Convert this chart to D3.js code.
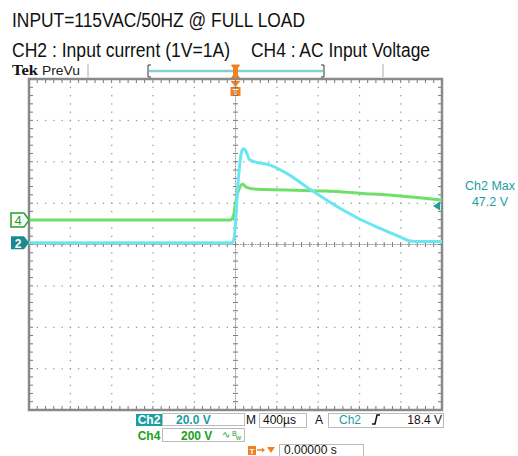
<!DOCTYPE html>
<html><head><meta charset="utf-8">
<script src="https://cdn.jsdelivr.net/npm/d3@7/dist/d3.min.js"></script>
<style>body{margin:0;background:#fff}svg{display:block}</style>
</head><body>
<script>
// ---- data ----
const titleLines = ["INPUT=115VAC/50HZ @ FULL LOAD", "CH2 : Input current (1V=1A)", "CH4 : AC Input Voltage"];
const timeDomain = [-2000, 2000];          // µs, 400 µs/div, 10 div
const divDomain = [-4, 4];                 // vertical divisions
const ch2Scale = 20;                       // V/div
const ch4Scale = 200;                      // V/div
const ch2Offset = 0.04;                    // div
const ch4Offset = 0.59;                    // div
const ch2Time  = [-2000, -27, -5, 15, 35, 55, 75, 95, 140, 205, 334, 496, 722, 1012, 1206, 1400, 1593, 1690, 1790, 2000];
const ch2Volts = [0, 0, 6, 22, 35, 43, 45.5, 44.8, 40, 38.9, 37.6, 33.6, 25.9, 16.7, 11.4, 7, 2.9, 0.9, 0.6, 0.6];
const ch4Time  = [-2000, -53, -21, -5, 12, 37, 70, 108, 205, 496, 818, 1012, 1206, 1593, 2000];
const ch4Volts = [0, 0, 16, 65, 113, 153, 173, 158, 149, 146, 141, 137, 130, 116, 97];
const measLabel = ["Ch2 Max", "47.2 V"];
const statusCh2 = ["Ch2", "20.0 V"];
const statusCh4 = ["Ch4", "200 V"];
const timebase = "400µs";
const trigText = ["Ch2", "18.4 V"];
const trigPos = "0.00000 s";

const W = 518, H = 456;
const svg = d3.select("body").append("svg").attr("width", W).attr("height", H);
const x = d3.scaleLinear().domain(timeDomain).range([29, 442]);
const y = d3.scaleLinear().domain(divDomain).range([410, 79]);
const sans = "'Liberation Sans', Arial, sans-serif";
const teal = "#1a9ea4", green = "#22a022", orange = "#f08020";

// titles (condensed to match the narrow face of the original)
const titles = [[12, 27, 293], [12, 57, 218], [251, 57, 179]];
titles.forEach(([tx0, ty0, len], i) => svg.append("text").attr("x", tx0).attr("y", ty0).text(titleLines[i])
  .attr("font-family", sans).attr("font-size", 20).attr("fill", "#111")
  .attr("textLength", len).attr("lengthAdjust", "spacingAndGlyphs"));

// Tek PreVu header
svg.append("text").attr("x", 12).attr("y", 75).text("Tek")
  .attr("font-family", "'Liberation Serif', serif").attr("font-weight", "bold").attr("font-size", 15).attr("fill", "#111")
  .attr("textLength", 26).attr("lengthAdjust", "spacingAndGlyphs");
svg.append("text").attr("x", 42).attr("y", 75).text("PreVu")
  .attr("font-family", sans).attr("font-size", 13).attr("fill", "#222")
  .attr("textLength", 38).attr("lengthAdjust", "spacingAndGlyphs");
[88, 383].forEach(px => svg.append("line").attr("x1", px).attr("x2", px).attr("y1", 64).attr("y2", 77).attr("stroke", "#aaa"));
svg.append("line").attr("x1", 149).attr("x2", 323).attr("y1", 71).attr("y2", 71).attr("stroke", "#86cfd0").attr("stroke-width", 2.5);
svg.append("path").attr("d", "M151,65 H148 V77 H151").attr("fill", "none").attr("stroke", "#333");
svg.append("path").attr("d", "M321,65 H324 V77 H321").attr("fill", "none").attr("stroke", "#333");
// trigger position marker at top
const tx = x(0);
svg.append("path").attr("d", `M${tx-4},65 H${tx+4} L${tx+2},68 V75 L${tx+4},78 H${tx-4} L${tx-2},75 V68 Z`)
  .attr("fill", orange).attr("stroke", orange);
svg.append("path").attr("d", `M${tx-5},81 H${tx+5} L${tx},87 Z`).attr("fill", orange);
svg.append("rect").attr("x", tx-5).attr("y", 87).attr("width", 10).attr("height", 9).attr("fill", orange);
svg.append("text").attr("x", tx).attr("y", 95).attr("text-anchor", "middle").text("T")
  .attr("font-family", sans).attr("font-weight", "bold").attr("font-size", 9).attr("fill", "#fff");

// grid
const g = svg.append("g");
const gridCol = "#9a9a9a";
const minorX = d3.range(-2000, 2000.1, 80);
const minorY = d3.range(-4, 4.01, 0.2);
for (let k = -3; k <= 3; k++) {
  if (k === 0) continue;
  minorX.forEach(t => g.append("rect").attr("x", x(t) - 0.5).attr("y", y(k) - 0.5).attr("width", 1.3).attr("height", 1.3).attr("fill", gridCol));
}
for (let k = -1600; k <= 1600; k += 400) {
  if (k === 0) continue;
  minorY.forEach(v => g.append("rect").attr("x", x(k) - 0.5).attr("y", y(v) - 0.5).attr("width", 1.3).attr("height", 1.3).attr("fill", gridCol));
}
// center lines with ticks
minorX.forEach(t => g.append("line").attr("x1", x(t)).attr("x2", x(t)).attr("y1", y(0) - 2.5).attr("y2", y(0) + 2.5).attr("stroke", "#777"));
minorY.forEach(v => g.append("line").attr("x1", x(0) - 2.5).attr("x2", x(0) + 2.5).attr("y1", y(v)).attr("y2", y(v)).attr("stroke", "#777"));
d3.range(-2000, 2000.1, 16).forEach(t => g.append("rect").attr("x", x(t) - 0.5).attr("y", y(0) - 0.5).attr("width", 1).attr("height", 1).attr("fill", "#888"));
d3.range(-4, 4.01, 0.04).forEach(v => g.append("rect").attr("x", x(0) - 0.5).attr("y", y(v) - 0.5).attr("width", 1).attr("height", 1).attr("fill", "#888"));
// border ticks
minorX.forEach(t => {
  g.append("line").attr("x1", x(t)).attr("x2", x(t)).attr("y1", y(4)).attr("y2", y(4) + 4).attr("stroke", "#777");
  g.append("line").attr("x1", x(t)).attr("x2", x(t)).attr("y1", y(-4)).attr("y2", y(-4) - 4).attr("stroke", "#777");
});
minorY.forEach(v => {
  g.append("line").attr("x1", x(-2000)).attr("x2", x(-2000) + 4).attr("y1", y(v)).attr("y2", y(v)).attr("stroke", "#777");
  g.append("line").attr("x1", x(2000)).attr("x2", x(2000) - 4).attr("y1", y(v)).attr("y2", y(v)).attr("stroke", "#777");
});
g.append("rect").attr("x", x(-2000)).attr("y", y(4)).attr("width", x(2000) - x(-2000)).attr("height", y(-4) - y(4))
  .attr("fill", "none").attr("stroke", "#8a8a8a").attr("stroke-width", 2.5);

// traces
const line = d3.line().curve(d3.curveMonotoneX);
const ch4Pts = ch4Time.map((t, i) => [x(t), y(ch4Offset + ch4Volts[i] / ch4Scale)]);
const ch2Pts = ch2Time.map((t, i) => [x(t), y(ch2Offset + ch2Volts[i] / ch2Scale)]);
svg.append("path").attr("d", line(ch4Pts)).attr("fill", "none").attr("stroke", "#6ee06a").attr("stroke-width", 3);
svg.append("path").attr("d", line(ch2Pts)).attr("fill", "none").attr("stroke", "#6ae6f2").attr("stroke-width", 3);

// channel markers
const y4 = y(ch4Offset), y2 = y(ch2Offset);
svg.append("path").attr("d", `M11,${y4-7} H24 L29,${y4} L24,${y4+7} H11 Z`).attr("fill", "#fff").attr("stroke", green).attr("stroke-width", 1.5);
svg.append("text").attr("x", 18).attr("y", y4 + 5).attr("text-anchor", "middle").text("4")
  .attr("font-family", sans).attr("font-size", 13).attr("fill", green);
svg.append("path").attr("d", `M11,${y2-6.5} H24 L29,${y2} L24,${y2+6.5} H11 Z`).attr("fill", "#1a8a90");
svg.append("text").attr("x", 18).attr("y", y2 + 5).attr("text-anchor", "middle").text("2")
  .attr("font-family", sans).attr("font-weight", "bold").attr("font-size", 12).attr("fill", "#fff");

// measurement
svg.append("text").attr("x", 465).attr("y", 190).text(measLabel[0])
  .attr("font-family", sans).attr("font-size", 12.5).attr("fill", teal);
svg.append("text").attr("x", 490).attr("y", 205.5).attr("text-anchor", "middle").text(measLabel[1])
  .attr("font-family", sans).attr("font-size", 12.5).attr("fill", teal);
svg.append("path").attr("d", "M433,206 L440,201.5 V210.5 Z").attr("fill", teal);

// status bar
const st = svg.append("g").attr("font-family", sans).attr("font-size", 12);
st.append("rect").attr("x", 136).attr("y", 414).attr("width", 26).attr("height", 12).attr("fill", teal);
st.append("text").attr("x", 149).attr("y", 424).attr("text-anchor", "middle").text(statusCh2[0]).attr("fill", "#fff").attr("font-weight", "bold");
st.append("rect").attr("x", 162.5).attr("y", 413.5).attr("width", 82).attr("height", 12).attr("fill", "#fff").attr("stroke", "#bbb");
st.append("text").attr("x", 176).attr("y", 424).text(statusCh2[1]).attr("fill", teal).attr("font-weight", "bold");
st.append("text").attr("x", 246).attr("y", 424).text("M").attr("fill", "#111");
st.append("rect").attr("x", 259.5).attr("y", 413.5).attr("width", 47).attr("height", 14).attr("fill", "#fff").attr("stroke", "#bbb");
st.append("text").attr("x", 263).attr("y", 424).text(timebase).attr("fill", "#111");
st.append("text").attr("x", 315).attr("y", 424).text("A").attr("fill", "#111");
st.append("rect").attr("x", 328.5).attr("y", 413.5).attr("width", 115).attr("height", 14).attr("fill", "#fff").attr("stroke", "#bbb");
st.append("text").attr("x", 339).attr("y", 424).text(trigText[0]).attr("fill", teal);
st.append("path").attr("d", "M372,424 H375 L377,415 H380").attr("fill", "none").attr("stroke", "#111").attr("stroke-width", 1.5);
st.append("text").attr("x", 442).attr("y", 424).attr("text-anchor", "end").text(trigText[1]).attr("fill", "#111");
st.append("text").attr("x", 149).attr("y", 440).attr("text-anchor", "middle").text(statusCh4[0]).attr("fill", green).attr("font-weight", "bold");
st.append("rect").attr("x", 162.5).attr("y", 428.5).attr("width", 82).attr("height", 13).attr("fill", "#fff").attr("stroke", "#bbb");
st.append("text").attr("x", 181).attr("y", 440).text(statusCh4[1]).attr("fill", green).attr("font-weight", "bold");
st.append("text").attr("x", 222).attr("y", 438).text("∿").attr("fill", green).attr("font-size", 10);
st.append("text").attr("x", 232).attr("y", 436).text("B").attr("fill", green).attr("font-size", 7);
st.append("text").attr("x", 236).attr("y", 440).text("w").attr("fill", green).attr("font-size", 7);
// trigger position row
st.append("rect").attr("x", 248).attr("y", 446).attr("width", 8).attr("height", 9).attr("fill", orange);
st.append("text").attr("x", 252).attr("y", 454).attr("text-anchor", "middle").text("T").attr("fill", "#fff").attr("font-size", 8).attr("font-weight", "bold");
st.append("line").attr("x1", 257).attr("x2", 264).attr("y1", 450).attr("y2", 450).attr("stroke", orange).attr("stroke-width", 1.5);
st.append("path").attr("d", "M262,447.5 L265,450 L262,452.5 Z").attr("fill", orange);
st.append("path").attr("d", "M267,447 H275 L271,453 Z").attr("fill", orange);
st.append("rect").attr("x", 279.5).attr("y", 444.5).attr("width", 84).attr("height", 12).attr("fill", "#fff").attr("stroke", "#bbb");
st.append("text").attr("x", 284).attr("y", 454).text(trigPos).attr("fill", "#111").attr("font-size", 12);
</script>
</body></html>
